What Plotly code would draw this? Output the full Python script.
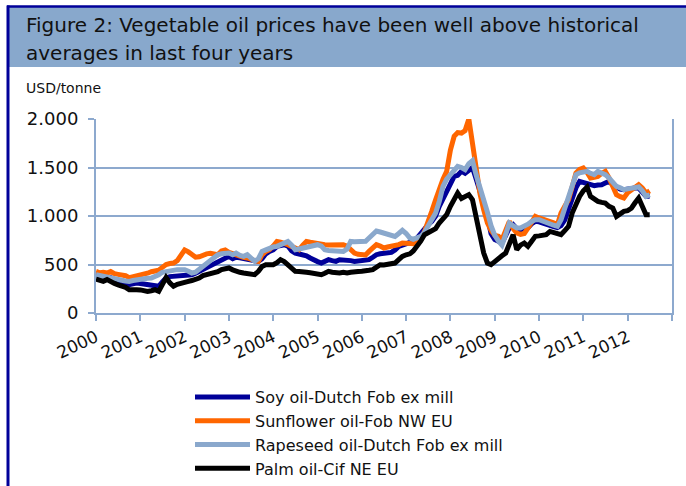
import pandas as pd
import plotly.graph_objects as go

# monthly prices, USD/tonne, Jan 2000 .. Jul 2012
months = pd.date_range("2000-01-01", periods=151, freq="MS")

soy = [
    395, 390, 380, 375, 365, 345, 330, 315, 300, 292, 300, 309,
    305, 300, 295, 292, 285, 275, 320, 361, 375, 378, 372, 378,
    380, 385, 395, 410, 430, 447, 460, 481, 500, 520, 550, 565,
    584, 560, 575, 570, 560, 550, 540, 535, 532, 560, 610, 635,
    650, 687, 695, 704, 690, 640, 618, 610, 601, 590, 567, 545,
    530, 515, 535, 550, 540, 532, 549, 550, 545, 540, 532, 535,
    545, 549, 550, 575, 601, 611, 615, 618, 625, 650, 687, 700,
    710, 721, 740, 773, 820, 876, 910, 944, 1000, 1099, 1180, 1271,
    1330, 1408, 1420, 1460, 1440, 1478, 1500, 1380, 1271, 1130, 1000, 820,
    756, 740, 722, 800, 880, 910, 870, 860, 870, 880, 920, 945,
    940, 925, 910, 900, 890, 880, 900, 960, 1080, 1203, 1290, 1357,
    1345, 1340, 1325, 1312, 1320, 1323, 1340, 1357, 1323, 1300, 1278, 1270,
    1278, 1285, 1288, 1288, 1250, 1203, 1203,
]
sunflower = [
    429, 415, 420, 412, 428, 405, 398, 392, 385, 365, 372, 390,
    395, 400, 410, 425, 430, 440, 470, 500, 510, 515, 540, 600,
    650, 630, 600, 575, 580, 600, 610, 615, 605, 600, 640, 650,
    625, 610, 601, 590, 575, 567, 550, 540, 532, 600, 635, 652,
    690, 738, 730, 721, 705, 687, 670, 652, 700, 738, 730, 721,
    715, 710, 704, 700, 704, 700, 710, 704, 690, 652, 618, 605,
    601, 598, 635, 670, 704, 690, 670, 680, 687, 690, 705, 721,
    721, 716, 714, 740, 756, 840, 930, 1050, 1168, 1290, 1380, 1460,
    1680, 1821, 1860, 1855, 1880, 2000, 1750, 1420, 1230, 1065, 930, 850,
    800, 790, 756, 850, 944, 870, 825, 810, 820, 876, 940, 996,
    980, 969, 960, 951, 930, 910, 1031, 1100, 1168, 1300, 1443, 1480,
    1495, 1450, 1392, 1400, 1409, 1440, 1460, 1392, 1300, 1220, 1200, 1186,
    1240, 1271, 1300, 1323, 1290, 1237, 1260,
]
rapeseed = [
    395, 385, 380, 371, 365, 355, 344, 338, 330, 326, 335, 344,
    348, 352, 358, 361, 375, 395, 420, 430, 440, 447, 447, 447,
    447, 430, 412, 420, 450, 481, 510, 533, 560, 601, 610, 618,
    618, 600, 618, 595, 584, 601, 570, 532, 560, 635, 650, 670,
    680, 687, 705, 721, 738, 700, 652, 660, 670, 680, 687, 695,
    704, 690, 652, 645, 640, 635, 640, 635, 660, 738, 735, 738,
    738, 740, 773, 810, 845, 835, 824, 810, 800, 790, 820, 852,
    820, 773, 760, 780, 790, 830, 890, 960, 1031, 1150, 1305, 1380,
    1426, 1470, 1511, 1500, 1478, 1540, 1570, 1420, 1300, 1168, 1040, 900,
    800, 740, 700, 810, 928, 900, 876, 876, 893, 915, 944, 962,
    962, 945, 928, 915, 905, 893, 962, 1080, 1203, 1320, 1426, 1445,
    1455, 1460, 1440, 1426, 1460, 1445, 1426, 1392, 1350, 1306, 1290, 1271,
    1280, 1288, 1290, 1299, 1260, 1203, 1220,
]
palm = [
    350, 335, 326, 344, 320, 305, 290, 282, 265, 240, 245, 240,
    238, 230, 223, 230, 240, 223, 300, 365, 310, 275, 295, 309,
    315, 326, 335, 344, 360, 385, 395, 405, 412, 425, 447, 455,
    464, 445, 430, 420, 412, 405, 400, 395, 430, 480, 498, 500,
    498, 520, 550, 530, 498, 450, 430, 428, 430, 420, 415, 412,
    405, 395, 410, 430, 420, 415, 412, 420, 412, 420, 430, 428,
    430, 430, 440, 447, 470, 498, 495, 498, 505, 515, 550, 584,
    600, 610, 640, 687, 740, 807, 830, 841, 870, 928, 970, 1013,
    1100, 1180, 1237, 1180, 1200, 1220, 1168, 962, 820, 620, 515, 498,
    530, 567, 590, 618, 720, 807, 653, 700, 721, 687, 740, 790,
    795, 800, 807, 841, 830, 820, 807, 850, 893, 1031, 1120, 1202,
    1260, 1299, 1202, 1170, 1151, 1140, 1134, 1100, 1082, 996, 1030, 1048,
    1055, 1080, 1134, 1185, 1100, 1013, 1013,
]

series_names = [
    "Soy oil-Dutch Fob ex mill",
    "Sunflower oil-Fob NW EU",
    "Rapeseed oil-Dutch Fob ex mill",
    "Palm oil-Cif NE EU",
]
series_colors = ["#000099", "#FF6600", "#8AA8CC", "#000000"]
years = list(range(2000, 2014))
year_labels = [str(y) for y in years[:-1]] + [""]

W, H = 686, 486
L, R, T, B = 96, 14, 119, 173
PW, PH = W - L - R, H - T - B
AXIS = "#8DA9CE"
FONT = "DejaVu Sans"


def px(x):
    return (x - L) / PW


def py(y):
    return (H - B - y) / PH


fig = go.Figure()
for name, vals, col in zip(series_names, [soy, sunflower, rapeseed, palm], series_colors):
    fig.add_trace(go.Scatter(x=months, y=vals, name=name, mode="lines",
                             line=dict(color=col, width=5)))

# header banner and frame
fig.add_shape(type="rect", xref="paper", yref="paper", x0=px(8), x1=px(690),
              y0=py(67), y1=py(7), fillcolor="#88A8CC", line_width=0, layer="below")
fig.add_shape(type="line", xref="paper", yref="paper", x0=px(7), x1=px(690),
              y0=py(6.5), y1=py(6.5), line=dict(color="#000099", width=2.5))
fig.add_shape(type="line", xref="paper", yref="paper", x0=px(8), x1=px(8),
              y0=py(5.5), y1=py(490), line=dict(color="#000099", width=3))

fig.add_annotation(text="Figure 2: Vegetable oil prices have been well above historical",
                   xref="paper", yref="paper", x=px(24), y=py(25), xanchor="left",
                   yanchor="middle", showarrow=False, font=dict(size=20, color="#111"))
fig.add_annotation(text="averages in last four years",
                   xref="paper", yref="paper", x=px(24), y=py(53), xanchor="left",
                   yanchor="middle", showarrow=False, font=dict(size=20, color="#111"))
fig.add_annotation(text="USD/tonne", xref="paper", yref="paper", x=px(24), y=py(88),
                   xanchor="left", yanchor="middle", showarrow=False,
                   font=dict(size=14, color="#111"))

fig.update_layout(
    width=W, height=H,
    margin=dict(l=L, r=R, t=T, b=B, pad=0, autoexpand=False),
    paper_bgcolor="white", plot_bgcolor="white",
    font=dict(family=FONT, color="#111"),
    separators=",.",
    showlegend=True,
    legend=dict(xref="container", yref="container", x=190 / W, y=1 - 380 / H,
                xanchor="left", yanchor="top",
                font=dict(size=16, color="#111"), bgcolor="rgba(0,0,0,0)",
                itemwidth=55, tracegroupgap=0),
    xaxis=dict(type="date", range=["2000-01-01", "2013-01-01"], automargin=False,
               tickvals=[f"{y}-01-01" for y in years], ticktext=year_labels,
               tickangle=-25, tickfont=dict(size=17), showgrid=False,
               showline=True, linecolor=AXIS, linewidth=2,
               ticks="outside", ticklen=6, tickwidth=2, tickcolor=AXIS),
    yaxis=dict(range=[0, 2000], dtick=500, tickformat=",d", tickfont=dict(size=18),
               automargin=False, ticklabelstandoff=6,
               showgrid=True, gridcolor=AXIS, gridwidth=2, zeroline=False,
               showline=True, linecolor=AXIS, linewidth=2, mirror=True,
               ticks="outside", ticklen=6, tickwidth=2, tickcolor=AXIS),
)

# the page's default body margin would shift the figure by 8px
fig.write_html("out.html", config={"displayModeBar": False},
               post_script="document.body.style.margin='0';")
